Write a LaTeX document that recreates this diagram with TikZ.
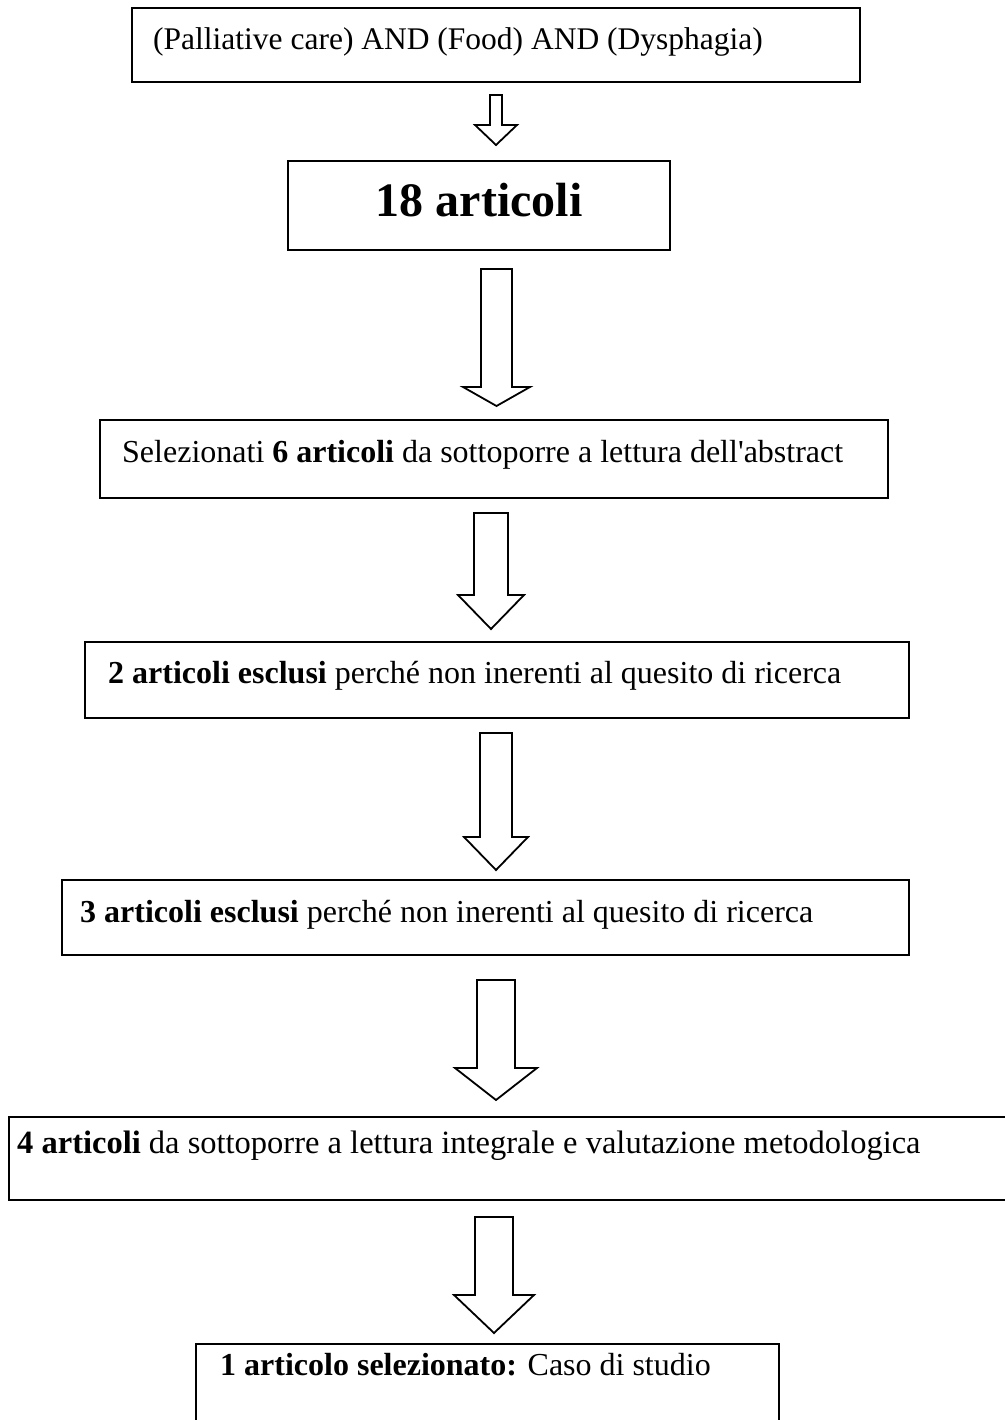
\documentclass[tikz,border=0pt]{standalone}
\usepackage{fontspec}
\setmainfont{Liberation Serif}[Ligatures=TeXOff]
\begin{document}
\begin{tikzpicture}[x=1pt,y=-1pt,
  box/.style={draw=black,line width=2.6pt,fill=white,rectangle,inner sep=0pt,outer sep=0pt,anchor=north west},
  txt/.style={inner sep=0pt,anchor=base west,font=\fontsize{32}{36}\selectfont},
  bigtxt/.style={inner sep=0pt,anchor=base,font=\fontsize{48}{54}\selectfont\bfseries},
  barrow/.style={draw=black,line width=1.8pt,fill=white,line join=miter}]
\useasboundingbox (0,0) rectangle (1004,1420);
\fill[white] (0,0) rectangle (1004,1420);

% hollow block arrow: centre x, shaft top, head base, tip, shaft half width, head half width
\newcommand\blockarrow[6]{%
  \draw[barrow] (#1-#5,#2) -- (#1-#5,#3) -- (#1-#6,#3) -- (#1,#4)
    -- (#1+#6,#3) -- (#1+#5,#3) -- (#1+#5,#2) -- cycle;}

% boxes
\node[box,minimum width=728pt,minimum height=74pt] (b1) at (132,8) {};
\node[box,minimum width=382pt,minimum height=89pt] (b2) at (288,161) {};
\node[box,minimum width=788pt,minimum height=78pt] (b3) at (100,420) {};
\node[box,minimum width=824pt,minimum height=76pt] (b4) at (85,642) {};
\node[box,minimum width=847pt,minimum height=75pt] (b5) at (62,880) {};
\node[box,minimum width=1010pt,minimum height=83pt] (b6) at (9,1117) {};
\node[box,minimum width=583pt,minimum height=80pt] (b7) at (196,1344) {};

% texts
\node[txt,font=\fontsize{31.5}{36}\selectfont] (t1) at (153,50) {(Palliative care) AND (Food) AND (Dysphagia)};
\node[bigtxt] (t2) at (479,217) {18 articoli};
\node[txt] (t3) at (122,462) {Selezionati \textbf{6 articoli} da sottoporre a lettura dell'abstract};
\node[txt] (t4) at (108,683) {\textbf{2 articoli esclusi} perché non inerenti al quesito di ricerca};
\node[txt] (t5) at (80,922) {\textbf{3 articoli esclusi} perché non inerenti al quesito di ricerca};
\node[txt,font=\fontsize{32.5}{36}\selectfont] (t6) at (17,1153) {\textbf{4 articoli} da sottoporre a lettura integrale e valutazione metodologica};
\node[txt] (t7) at (220,1375) {\textbf{1 articolo selezionato:} Caso di studio};

% connectors
\blockarrow{496}{95}{125}{145}{6}{21}
\blockarrow{496.5}{269}{387}{406}{15.5}{33.5}
\blockarrow{491}{513}{595}{629}{17}{33}
\blockarrow{496}{733}{837}{870}{16}{32}
\blockarrow{496}{980}{1068}{1100}{19}{41}
\blockarrow{494}{1217}{1295}{1333}{19}{40}
\end{tikzpicture}
\end{document}
